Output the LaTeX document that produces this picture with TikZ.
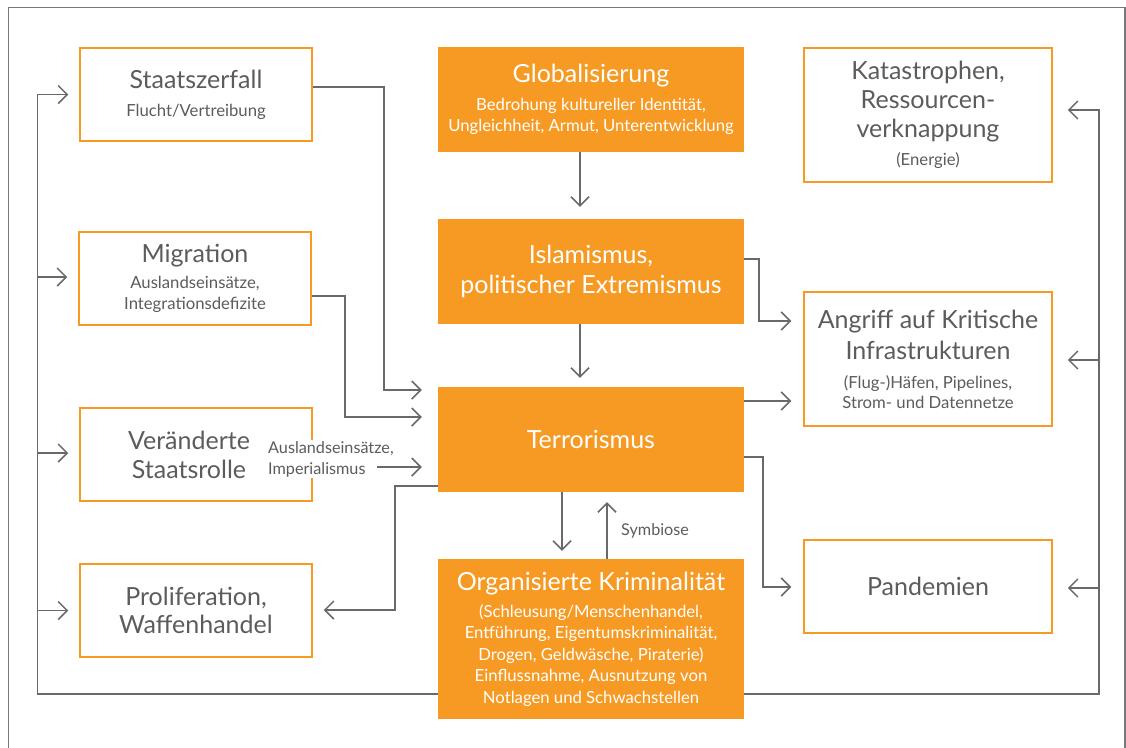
\documentclass[tikz,border=0pt]{standalone}
\usepackage{fontspec}
\setmainfont{Lato}
\usetikzlibrary{arrows.meta}
\definecolor{org}{RGB}{246,154,35}
\definecolor{txt}{RGB}{92,92,92}
\definecolor{ln}{RGB}{105,105,105}
\definecolor{frm}{RGB}{120,120,120}
\newcommand\ttlfnt{\fontsize{25}{30}\selectfont}
\newcommand\subfnt{\fontsize{16.7}{21}\selectfont}
\newcommand\labfnt{\fontsize{16.2}{21}\selectfont}
\begin{document}
\begin{tikzpicture}[x=1pt,y=-1pt,
  wbox/.style={draw=org,line width=1.5pt,fill=white,text=txt,minimum width=232pt,minimum height=93pt,align=center,font=\ttlfnt,inner sep=0pt},
  obox/.style={fill=org,text=white,minimum width=306pt,minimum height=105pt,align=center,font=\ttlfnt,inner sep=0pt},
  rbox/.style={wbox,minimum width=248pt,minimum height=134pt},
  arr/.style={draw=ln,line width=1.5pt,-{Straight Barb[length=9pt,width=18pt]}},
  con/.style={draw=ln,line width=1.5pt}
]
\clip (0,0) rectangle (1126,747);
\draw[draw=frm,line width=1.5pt] (8.5,760) -- (8.5,7.5) -- (1125,7.5) -- (1125,760);

% left column
\node[wbox] (sz) at (196,94.5) {Staatszerfall\\[-2pt]\subfnt Flucht/Vertreibung};
\node[wbox] (mig) at (195,278.5) {Migration\\[-4pt]\subfnt Auslandseinsätze,\\[-9pt]\subfnt Integrationsdefizite};
\node[wbox] (ver) at (196,454.5) {Veränderte\hspace*{14pt}\\[-1pt]Staatsrolle\hspace*{14pt}};
\node[wbox] (pro) at (196,610.5) {Proliferation,\\[-2pt]Waffenhandel};

% middle column
\node[obox] (glo) at (591,99.5) {Globalisierung\\[-2pt]\subfnt Bedrohung kultureller Identität,\\[-9pt]\subfnt Ungleichheit, Armut, Unterentwicklung};
\node[obox] (isl) at (591,271.5) {Islamismus,\\politischer Extremismus};
\node[obox] (ter) at (591,439.5) {Terrorismus};
\node[obox,minimum height=160pt] (ok) at (591,639) {Organisierte Kriminalität\\[-3pt]\subfnt (Schleusung/Menschenhandel,\\[-8.5pt]\subfnt Entführung, Eigentumskriminalität,\\[-8.5pt]\subfnt Drogen, Geldwäsche, Piraterie)\\[-8.5pt]\subfnt Einflussnahme, Ausnutzung von\\[-8.5pt]\subfnt Notlagen und Schwachstellen};

% right column
\node[rbox] (kat) at (928,115) {Katastrophen,\\[-1pt]Ressourcen-\\[-1pt]verknappung\\[-2pt]\subfnt (Energie)};
\node[rbox] (ang) at (928,359) {Angriff auf Kritische\\[1pt]Infrastrukturen\\[-1pt]\subfnt (Flug-)Häfen, Pipelines,\\[-10pt]\subfnt Strom- und Datennetze};
\node[rbox,minimum height=93pt] (pan) at (928,586.5) {Pandemien};

% labels
\node[fill=white,text=txt,font=\labfnt,align=left,anchor=west,inner sep=1pt] (lab) at (267,459) {Auslandseinsätze,\\Imperialismus};
\node[text=txt,font=\labfnt,anchor=west,inner sep=1pt] (sym) at (620,531) {Symbiose};
\coordinate (labarr) at (377,467);

% left bus
\coordinate (lb) at (37.5,694);
\draw[arr,shorten >=11pt] (ok.west |- lb) -- (lb) |- (sz.west);
\draw[arr,shorten >=11pt] (lb |- 0,277) -- (mig.west |- 0,277);
\draw[arr,shorten >=11pt] (lb |- 0,453) -- (ver.west |- 0,453);
\draw[arr,shorten >=11pt] (lb |- pro.west) -- (pro.west);

% right bus
\coordinate (rb) at (1099,694);
\draw[arr,shorten >=15pt] (ok.east |- rb) -- (rb) |- (kat.east |- 0,110);
\draw[arr,shorten >=15pt] (rb |- 0,360) -- (ang.east |- 0,360);
\draw[arr,shorten >=15pt] (rb |- 0,588) -- (pan.east |- 0,588);

% into Terrorismus
\draw[arr,shorten >=16pt] (sz.east |- 0,87) -| (384,390) -- (ter.west |- 0,390);
\draw[arr,shorten >=16pt] (mig.east |- 0,296) -| (345,417) -- (ter.west |- 0,417);
\draw[arr,shorten >=16pt] (labarr) -- (ter.west |- labarr);
\draw[arr,shorten >=11pt] (ter.west |- 0,486) -| (395,610) -- (pro.east |- 0,610);

% middle vertical
\draw[arr,shorten >=12pt] (glo.south -| 580,0) -- (isl.north -| 580,0);
\draw[arr,shorten >=9pt] (isl.south -| 580,0) -- (ter.north -| 580,0);
\draw[arr,shorten >=8pt] (ter.south -| 562,0) -- (ok.north -| 562,0);
\draw[arr,shorten >=10pt] (ok.north -| 607,0) -- (ter.south -| 607,0);

% to the right column
\draw[arr,shorten >=12pt] (isl.east |- 0,259) -| (759,321) -- (ang.west |- 0,321);
\draw[arr,shorten >=12pt] (ter.east |- 0,401) -- (ang.west |- 0,401);
\draw[arr,shorten >=12pt] (ter.east |- 0,457) -| (763,587) -- (pan.west |- 0,587);
\end{tikzpicture}
\end{document}
